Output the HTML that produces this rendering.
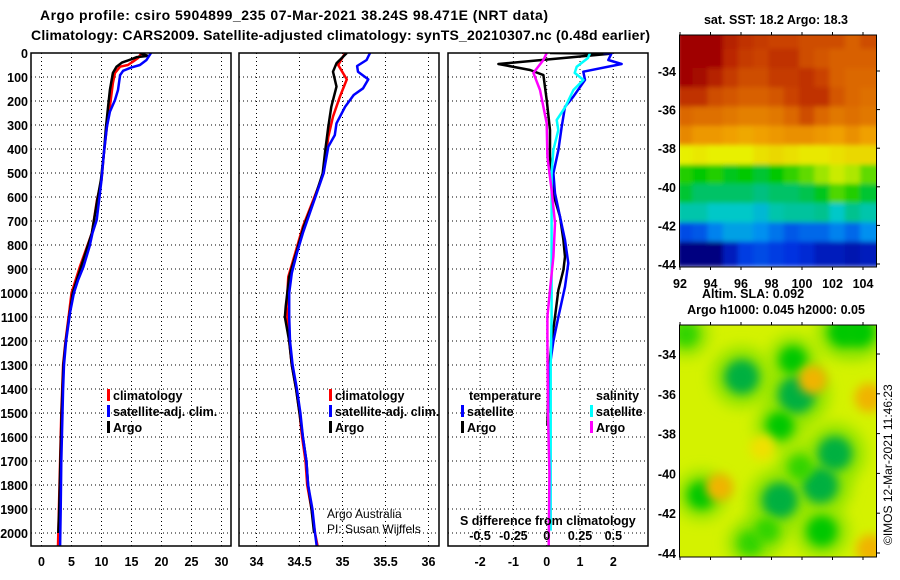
<!DOCTYPE html>
<html><head><meta charset="utf-8"><style>
html,body{margin:0;padding:0;background:#fff;}
svg{display:block;font-family:"Liberation Sans",sans-serif;}
.t{font-weight:bold;font-size:12.5px;fill:#000;}
.ti{font-weight:bold;font-size:14px;fill:#000;}
.n{font-size:12px;fill:#000;}
</style></head><body>
<svg id="fig" width="900" height="580" viewBox="0 0 900 580" xmlns="http://www.w3.org/2000/svg">
<defs>
<filter id="blur1" x="0" y="0" width="1" height="1"><feGaussianBlur stdDeviation="2.5"/></filter>
<filter id="blur2" x="-0.6" y="-0.6" width="2.2" height="2.2"><feGaussianBlur stdDeviation="5"/></filter>
<filter id="blur3" x="-0.6" y="-0.6" width="2.2" height="2.2"><feGaussianBlur stdDeviation="7"/></filter>
<clipPath id="clipSST"><rect x="679.5" y="35" width="197" height="232"/></clipPath>
<clipPath id="clipSLA"><rect x="679.5" y="325" width="197" height="232"/></clipPath>
<clipPath id="clipP1"><rect x="31" y="53" width="200" height="493"/></clipPath>
<clipPath id="clipP2"><rect x="239" y="53" width="200" height="493"/></clipPath>
<clipPath id="clipP3"><rect x="448" y="53" width="200" height="493"/></clipPath>
</defs>
<text class="ti" x="40" y="20" textLength="508">Argo profile: csiro 5904899_235 07-Mar-2021 38.24S 98.471E (NRT data)</text>
<text class="ti" x="31" y="40" textLength="619">Climatology: CARS2009. Satellite-adjusted climatology: synTS_20210307.nc (0.48d earlier)</text>
<g id="grid"></g>
<g id="series"></g>
<g id="axes"></g>
<g id="maps"></g>
<text class="t" x="776" y="24" text-anchor="middle">sat. SST: 18.2 Argo: 18.3</text>
<text class="t" x="753" y="298" text-anchor="middle">Altim. SLA: 0.092</text>
<text class="t" x="776" y="314" text-anchor="middle">Argo h1000: 0.045 h2000: 0.05</text>
<text class="n" transform="translate(892,545) rotate(-90)">©IMOS 12-Mar-2021 11:46:23</text>
<text class="n" x="327" y="518">Argo Australia</text>
<text class="n" x="327" y="533">PI: Susan Wijffels</text>
<text class="t" x="460" y="525">S difference from climatology</text>
</svg>
<script>
// ---------- data ----------
const depthTicks=[0,100,200,300,400,500,600,700,800,900,1000,1100,1200,1300,1400,1500,1600,1700,1800,1900,2000];
const tempTicks=[0,5,10,15,20,25,30];
const salTicks=[34,34.5,35,35.5,36];
const diffTicks=[-2,-1,0,1,2];
const sdiffTicks=[-0.5,-0.25,0,0.25,0.5];
// temperature profiles
const tSatDepth=[0,29,50,60,74,92,154,196,245,307,417,529,613,696,750,807,890,946,1000,1083,1200,1300,1400,1500,1700,1900,2054];
const tSatVal=[18.25,17.5,16.4,15.0,13.6,13.1,12.75,12.25,11.4,10.9,10.4,10.0,9.6,9.2,8.5,8.0,7.0,6.1,5.4,4.75,4.1,3.75,3.6,3.5,3.3,3.2,3.1];
const tClimDepth=[0,21,36,50,57,83,125,223,307,417,529,612,750,890,1000,1083,1200,1300,1400,1500,1700,1900,2054];
const tClimVal=[16.7,16.1,15.25,14.4,13.1,12.25,11.9,11.4,10.9,10.4,10.0,9.25,8.4,6.4,5.0,4.6,4.0,3.6,3.45,3.3,3.1,2.9,2.75];
const tArgoDepth=[0,12,17,26,40,57,83,154,223,307,417,529,612,750,890,1000,1083,1200,1300,1400,1500,1700,1900,2000];
const tArgoVal=[16.4,17.75,15.9,15.0,13.4,12.5,11.9,11.4,11.1,10.75,10.4,9.9,9.3,8.4,6.6,5.2,4.7,4.05,3.65,3.5,3.35,3.15,2.95,2.8];
// salinity profiles
const sSatDepth=[0,29,54,78,110,147,175,224,293,342,390,501,584,667,750,834,917,1000,1099,1200,1300,1400,1500,1600,1700,1800,1900,2000,2054];
const sSatVal=[35.32,35.28,35.17,35.18,35.3,35.24,35.13,35.03,34.93,34.91,34.835,34.78,34.70,34.62,34.54,34.47,34.41,34.38,34.38,34.39,34.42,34.47,34.51,34.54,34.58,34.6,34.65,34.68,34.70];
const sClimDepth=[0,50,110,182,265,349,501,612,723,834,932,1057,1200,1300,1400,1500,1600,1700,1800,1900,2000,2054];
const sClimVal=[35.03,34.95,35.05,34.97,34.89,34.835,34.78,34.66,34.54,34.45,34.37,34.35,34.38,34.41,34.46,34.5,34.53,34.57,34.59,34.64,34.68,34.71];
const sArgoDepth=[0,43,78,140,224,307,404,501,612,723,834,932,1057,1100,1200,1300,1400,1500,1600,1700,1800,1900,2000];
const sArgoVal=[35.05,34.93,34.89,34.93,34.87,34.835,34.8,34.77,34.67,34.55,34.46,34.38,34.34,34.33,34.38,34.41,34.46,34.5,34.54,34.58,34.6,34.64,34.67];
// differences from climatology
const dTSatDepth=[0,1,29,46,78,112,182,224,307,404,501,584,682,779,876,974,1099,1200,1300,1400,1500];
const dTSatVal=[1.7,1.95,1.85,2.25,1.1,1.15,0.8,0.55,0.45,0.35,0.2,0.25,0.4,0.55,0.65,0.55,0.35,0.2,0.1,0.06,0.05];
const dTArgoDepth=[0,3,46,71,92,196,321,432,529,612,682,779,849,904,987,1099,1200,1300,1400,1500,1550];
const dTArgoVal=[0.1,1.9,-1.45,-0.5,-0.1,0,0.1,0.1,0.15,0.25,0.4,0.5,0.55,0.5,0.35,0.25,0.15,0.08,0.05,0.03,0.02];
const dSSatDepth=[0,21,57,83,112,154,224,279,321,404,501,709,849,1099,1300,1600,1990];
const dSSatVal=[0.325,0.31,0.225,0.21,0.275,0.2,0.14,0.075,0.087,0.05,0.037,0.037,0.037,0.037,0.03,0.03,0.03];
const dSArgoDepth=[0,29,83,154,293,432,571,709,849,987,1099,1200,1500,1750,2054];
const dSArgoVal=[0,-0.025,-0.1,-0.05,0,0.005,0.037,0.062,0.05,0.025,0.005,0.005,0.01,0.02,0.015];
// SST map (rows from north to south at 1 degree, columns 92..104E)
const sstLats=[-32.5,-33.5,-34.5,-35.5,-36.5,-37.5,-38.5,-39.5,-40.5,-41.5,-42.5,-43.5];
const sstLons=[92,93,94,95,96,97,98,99,100,101,102,103,104];
const sstRow0=[20.6,20.6,20.4,20.0,19.8,19.7,19.6,19.6,19.5,19.5,19.5,19.3,19.5];
const sstRow1=[20.6,20.6,20.4,19.9,19.7,19.6,19.8,19.8,19.5,19.4,19.3,19.3,19.3];
const sstRow2=[20.4,20.3,20.0,19.7,19.5,19.5,19.7,19.7,19.8,19.6,19.3,19.2,19.2];
const sstRow3=[19.8,19.8,19.5,19.4,19.3,19.3,19.4,19.6,19.8,19.8,19.4,19.2,19.1];
const sstRow4=[19.2,19.1,19.1,19.0,18.9,18.9,19.0,19.2,19.5,19.2,19.0,19.1,19.0];
const sstRow5=[18.8,18.6,18.6,18.5,18.4,18.5,18.6,18.7,18.7,18.6,18.5,18.7,18.5];
const sstRow6=[17.5,17.6,17.5,17.5,17.5,17.7,17.8,17.7,17.6,17.6,17.7,17.8,17.8];
const sstRow7=[16.2,16.0,16.2,15.9,16.0,15.8,16.0,16.3,16.6,17.0,17.3,17.1,16.6];
const sstRow8=[15.8,15.6,15.6,15.6,15.6,15.5,15.6,15.6,15.7,15.9,16.5,16.2,15.8];
const sstRow9=[15.2,15.2,15.0,15.0,15.0,14.8,15.2,15.3,15.3,15.4,15.0,15.4,15.2];
const sstRow10=[13.8,13.9,14.2,14.5,14.5,14.3,14.1,13.9,14.0,14.0,14.2,14.0,14.3];
const sstRow11=[12.6,12.5,12.8,13.3,13.7,13.8,13.7,13.6,13.5,13.3,13.3,13.2,13.3];
// SLA map features
const slaLon=[96.05,99.65,99.4,98.55,102.15,101.2,98.55,93.4,101.3,96.6,97.7,102.7,103.8,92.4,99.9,100.7,104.4,94.6,104.5,97.4];
const slaLat=[-35.15,-36.05,-34.3,-37.6,-39.0,-40.6,-41.35,-41.1,-42.9,-43.5,-42.85,-32.9,-32.9,-33.0,-39.7,-35.3,-36.2,-40.7,-43.8,-38.7];
const slaVal=[-0.15,-0.17,-0.1,-0.1,-0.15,-0.16,-0.16,-0.1,-0.12,-0.08,-0.08,-0.12,-0.12,-0.08,-0.08,0.08,0.08,0.07,0.08,0.05];
const slaLatTicks=[-34,-36,-38,-40,-42,-44];
const sstLatTicks=[-34,-36,-38,-40,-42,-44];
const lonTicks=[92,94,96,98,100,102,104];
</script>
<script>
const NS="http://www.w3.org/2000/svg";
function mk(tag,attrs,parent){const e=document.createElementNS(NS,tag);for(const k in attrs)e.setAttribute(k,attrs[k]);parent.appendChild(e);return e;}
const yD=d=>53+d*0.2400;
const xT=t=>41.5+t*6.0;
const xS=s=>256.5+(s-34)*86;
const xDT=t=>546.7+t*33.3;
const xDS=s=>546.7+s*133.3;
const grid=document.getElementById('grid'),series=document.getElementById('series'),axes=document.getElementById('axes'),maps=document.getElementById('maps');
const panels=[{x:31,clip:'clipP1',ticks:tempTicks,sc:xT,name:'temperature'},{x:239,clip:'clipP2',ticks:salTicks,sc:xS,name:'salinity'},{x:448,clip:'clipP3',ticks:diffTicks,sc:xDT,name:'difference'}];
panels.forEach(p=>{
  depthTicks.forEach(d=>{
    const l=mk('line',{x1:p.x,x2:p.x+200,y1:yD(d),y2:yD(d),stroke:'#000','stroke-width':1,'stroke-dasharray':'1,3'},grid);
    
    
  });
  p.ticks.forEach(v=>{
    const x=p.sc(v);
    const l=mk('line',{x1:x,x2:x,y1:53,y2:546,stroke:'#000','stroke-width':1,'stroke-dasharray':'1,3'},grid);
    
    
    const t=mk('text',{x:x,y:566,'text-anchor':'middle',class:'t'},axes);
    t.textContent=String(v);
    
    
  });
  const r=mk('rect',{x:p.x,y:53,width:200,height:493,fill:'none',stroke:'#000','stroke-width':1.5},axes);
  
  
});
depthTicks.forEach(d=>{
  const t=mk('text',{x:28,y:yD(d)+5,'text-anchor':'end',class:'t'},axes);
  t.textContent=String(d);
  
  
});
sdiffTicks.forEach(v=>{
  const t=mk('text',{x:xDS(v),y:540,'text-anchor':'middle',class:'t'},axes);
  t.textContent=String(v);
  
  
});
function line(ds,vs,sc,color,w,clip,name){
  const pts=ds.map((d,i)=>sc(vs[i]).toFixed(1)+','+yD(d).toFixed(1)).join(' ');
  const pl=mk('polyline',{points:pts,fill:'none',stroke:color,'stroke-width':w,'stroke-linejoin':'round','clip-path':'url(#'+clip+')'},series);
  
  
}
line(tClimDepth,tClimVal,xT,'#ff0000',2.5,'clipP1','temp-climatology-line');
line(tArgoDepth,tArgoVal,xT,'#000',2.5,'clipP1','temp-argo-line');
line(tSatDepth,tSatVal,xT,'#0000ff',2.5,'clipP1','temp-satellite-line');
line(sClimDepth,sClimVal,xS,'#ff0000',2.5,'clipP2','sal-climatology-line');
line(sArgoDepth,sArgoVal,xS,'#000',2.5,'clipP2','sal-argo-line');
line(sSatDepth,sSatVal,xS,'#0000ff',2.5,'clipP2','sal-satellite-line');
line(dTArgoDepth,dTArgoVal,xDT,'#000',2.5,'clipP3','tdiff-argo-line');
line(dTSatDepth,dTSatVal,xDT,'#0000ff',2.5,'clipP3','tdiff-satellite-line');
line(dSSatDepth,dSSatVal,xDS,'#00ffff',2.5,'clipP3','sdiff-satellite-line');
line(dSArgoDepth,dSArgoVal,xDS,'#ff00ff',2.5,'clipP3','sdiff-argo-line');
// legends
function leg(x,y,color,label,name){
  const r=mk('rect',{x:x,y:y-11,width:3,height:12,fill:color},axes);
  
  
  const t=mk('text',{x:x+6,y:y,class:'t'},axes);
  t.textContent=label;
  
  
}
leg(107,400,'#ff0000','climatology','legend-climatology-1');
leg(107,416,'#0000ff','satellite-adj. clim.','legend-satellite-1');
leg(107,432,'#000','Argo','legend-argo-1');
leg(329,400,'#ff0000','climatology','legend-climatology-2');
leg(329,416,'#0000ff','satellite-adj. clim.','legend-satellite-2');
leg(329,432,'#000','Argo','legend-argo-2');
leg(461,416,'#0000ff','satellite','legend-temp-satellite');
leg(461,432,'#000','Argo','legend-temp-argo');
leg(590,416,'#00ffff','satellite','legend-sal-satellite');
leg(590,432,'#ff00ff','Argo','legend-sal-argo');
[['temperature',469,'legend-temperature-heading'],['salinity',596,'legend-salinity-heading']].forEach(a=>{
  const t=mk('text',{x:a[1],y:400,class:'t'},axes);t.textContent=a[0];
  
  
});
// ---------- maps ----------
const lonX=l=>680+(l-92)*15.25;
const sstY=la=>71+(-34-la)*19.3;
const slaY=la=>354+(-34-la)*19.9;
const stops=[[12.8,[0,0,128]],[13.6,[0,48,224]],[14.3,[0,144,240]],[15.0,[0,200,200]],[15.5,[0,192,128]],[16.0,[0,200,0]],[16.8,[128,224,0]],[17.5,[232,240,0]],[18.5,[240,160,0]],[19.3,[216,96,0]],[19.8,[192,48,0]],[20.4,[160,0,0]]];
function cmap(v){
  if(v<=stops[0][0])return 'rgb('+stops[0][1]+')';
  for(let i=1;i<stops.length;i++){if(v<=stops[i][0]){const a=stops[i-1],b=stops[i],f=(v-a[0])/(b[0]-a[0]);return 'rgb('+a[1].map((c,k)=>Math.round(c+(b[1][k]-c)*f)).join(',')+')';}}
  return 'rgb('+stops[stops.length-1][1]+')';
}
const sstRows=[sstRow0,sstRow1,sstRow2,sstRow3,sstRow4,sstRow5,sstRow6,sstRow7,sstRow8,sstRow9,sstRow10,sstRow11];
const gS=mk('g',{'clip-path':'url(#clipSST)'},maps);


const gSb=mk('g',{filter:'url(#blur1)'},gS);
sstRows.forEach((row,ri)=>{row.forEach((v,ci)=>{
  const la=sstLats[ri];
  const y0=sstY(la+0.5)-3,y1=sstY(la-0.5)+3;
  const c=mk('rect',{x:lonX(sstLons[ci])-3,y:y0,width:15.25+6,height:y1-y0,fill:cmap(v)},gSb);
  
  
});});
const gL=mk('g',{'clip-path':'url(#clipSLA)'},maps);


mk('rect',{x:679.5,y:325,width:197,height:232,fill:'#d4f200'},gL);
// halos first
slaLon.forEach((lo,i)=>{
  const v=slaVal[i];
  if(v<0){
    const h=mk('circle',{cx:lonX(lo),cy:slaY(slaLat[i]),r:14+Math.abs(v)*110,fill:'#90e400',filter:'url(#blur3)'},gL);
    
    
  }
});
slaLon.forEach((lo,i)=>{
  const v=slaVal[i];
  const col=v<-0.13?'#00b040':(v<-0.09?'#00c800':(v<0?'#30d400':(v>0.06?'#f0b400':'#f0e000')));
  const r=v<0?7+Math.abs(v)*70:9+v*70;
  const c=mk('circle',{cx:lonX(lo),cy:slaY(slaLat[i]),r:r,fill:col,filter:'url(#blur2)'},gL);
  
  
});
[[35,267,sstLatTicks,sstY,'sst'],[325,557,slaLatTicks,slaY,'sla']].forEach(m=>{
  const fr=mk('rect',{x:679.5,y:m[0],width:197,height:m[1]-m[0],fill:'none',stroke:'#000','stroke-width':1},maps);
  
  
  m[2].forEach(la=>{
    const y=m[3](la);
    const t=mk('text',{x:676,y:y+5,'text-anchor':'end',class:'t'},maps);t.textContent=String(la);
    
    
    mk('line',{x1:876.5,x2:880,y1:y,y2:y,stroke:'#000'},maps);
  });
  lonTicks.forEach(lo=>{
    mk('line',{x1:lonX(lo),x2:lonX(lo),y1:m[0]-3,y2:m[0],stroke:'#000'},maps);
    mk('line',{x1:lonX(lo),x2:lonX(lo),y1:m[1],y2:m[1]+3,stroke:'#000'},maps);
  });
});
lonTicks.forEach(lo=>{
  const t=mk('text',{x:lonX(lo),y:288,'text-anchor':'middle',class:'t'},maps);t.textContent=String(lo);
  
  
});
</script>
</body></html>
